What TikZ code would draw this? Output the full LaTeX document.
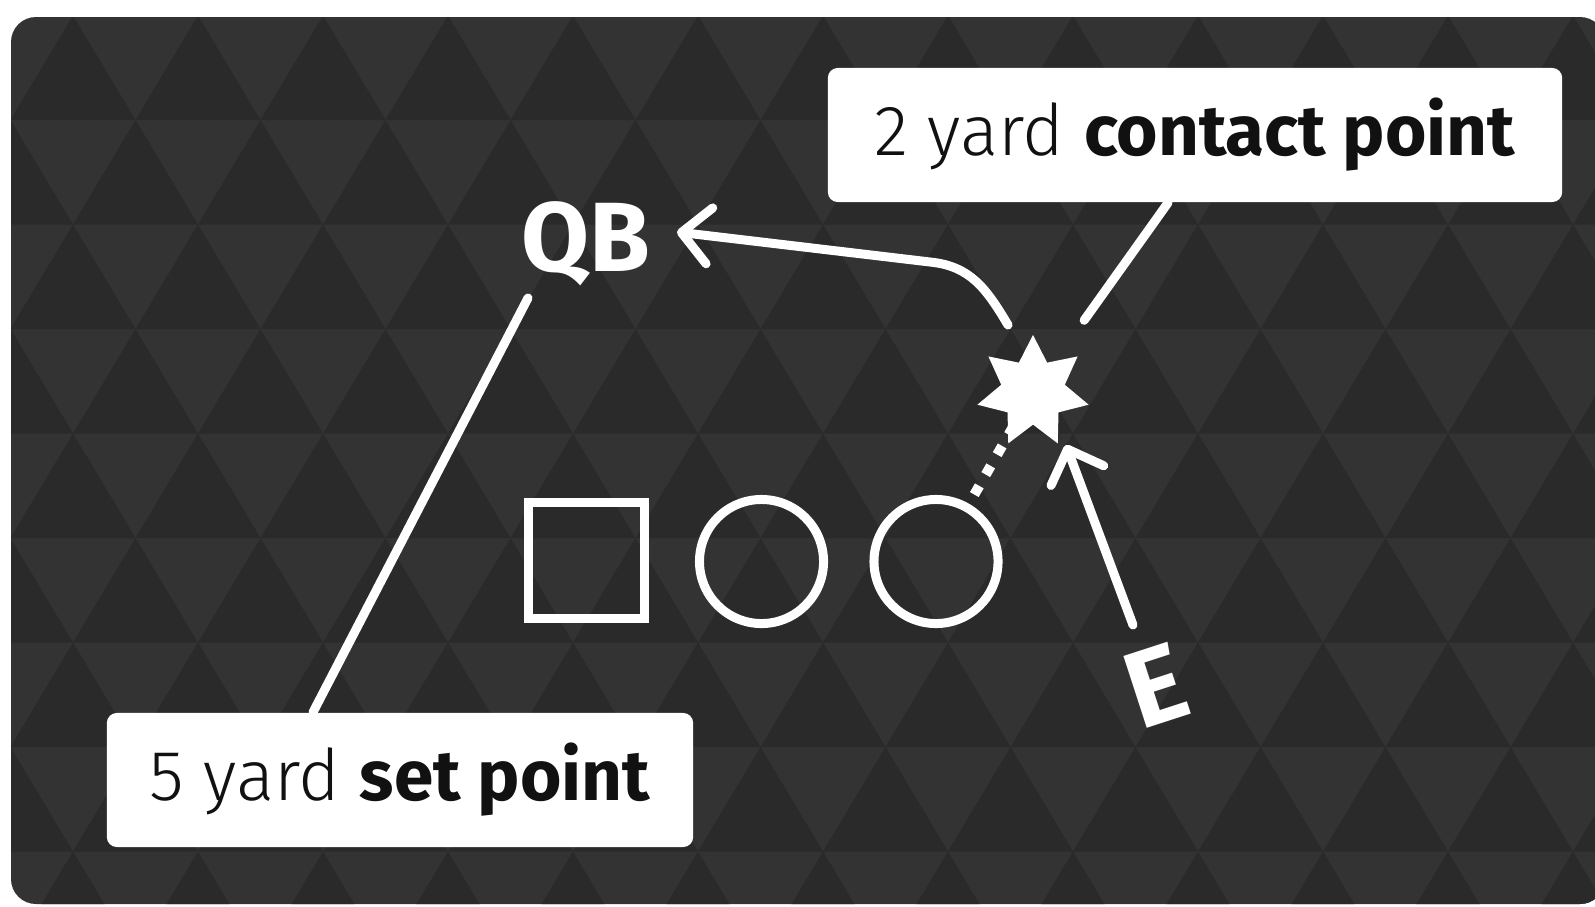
\documentclass[tikz,border=0pt]{standalone}
\usepackage{fontspec}
\setmainfont{Fira Sans Light}[BoldFont={Fira Sans Bold}]
\usepackage{xcolor}
\usetikzlibrary{shapes,arrows.meta,positioning,calc}

\definecolor{fieldlight}{HTML}{333333}
\definecolor{fielddark}{HTML}{2A2A2A}
\definecolor{inkblack}{HTML}{111111}

\tikzset{
  chalk/.style={draw=white, line width=0.09cm, line cap=round},
  chalkarrow/.style={chalk, -{Straight Barb[length=8pt,width=16pt,round]}},
  player/.style={draw=white, line width=0.09cm, inner sep=0pt},
  callout/.style={fill=white, rounded corners=0.1cm, text=inkblack, inner sep=0pt,
    minimum width=7.34cm, minimum height=1.34cm, font=\fontsize{20.2}{24}\selectfont},
  tag/.style={text=white, inner sep=0pt, font=\fontsize{28}{32}\selectfont\bfseries},
}

\begin{document}
\begin{tikzpicture}[x=0.01cm, y=-0.01cm]
    % Frame
    \fill[white] (0,0) rectangle (1595,906);
    \useasboundingbox (0,0) rectangle (1595,906);
    \fill[fieldlight, rounded corners=0.25cm] (11,17) rectangle (1605,904);

    % Triangle pattern
    \begin{scope}
      \clip[rounded corners=0.25cm] (11,17) rectangle (1605,904);
      \foreach \r in {0,...,8} {
        \pgfmathsetmacro{\rowtop}{15.5+104.5*\r}
        \pgfmathsetmacro{\rowshift}{73+62.5*mod(\r,2)}
        \foreach \k in {-1,...,13}
          \fill[fielddark] ({\rowshift+125*\k},\rowtop) -- ++(-62.5,104.5) -- ++(125,0) -- cycle;
      }
    \end{scope}

    % Formation
    \node[player, rectangle, minimum size=1.16cm] (sq) at (586.5,560.5) {};
    \node[player, circle, minimum size=1.24cm] (c1) at (761.5,561.5) {};
    \node[player, circle, minimum size=1.24cm] (c2) at (936,561.5) {};

    % Players
    \node[tag] (qb) at (586,244) {QB};
    \node[tag, font=\fontsize{31}{36}\selectfont\bfseries, rotate=18] (endE) at (1156,686) {E};

    % Contact
    \node[star, star points=7, star point ratio=1.75, fill=white, inner sep=0pt,
      minimum size=1.14cm] (hit) at (1033,392) {};

    % Callouts
    \node[callout] (contact) at (1195,135) {2 yard \textbf{contact point}};
    \node[callout, minimum width=5.86cm] (setpt) at (400,780) {5 yard \textbf{set point}};

    % Pointers
    \coordinate (setfoot) at ($(setpt.north)+(-87,0)$);
    \coordinate (qbfoot) at (528,298);
    \draw[chalk] (setfoot) -- (qbfoot);
    \coordinate (contactfoot) at ($(contact.south)+(-27,0)$);
    \draw[chalk, shorten >=0.88cm] (contactfoot) -- (hit.center);

    % Snap back to QB
    \coordinate (qbtip) at (677,232);
    \coordinate (bend) at (930,262);
    \draw[chalkarrow] ($(hit.center)+(-25,-67)$) .. controls (986,288) and (970,266) .. (bend) -- (qbtip);

    % Rush
    \draw[chalkarrow] ($(endE)+(-23,-61)$) -- ($(hit.center)+(33,53)$);

    % Release
    \draw[white, line width=0.1cm, dash pattern=on 0.1cm off 0.13cm]
      ($(c2)!0.395!(hit)$) -- ($(c2)!0.82!(hit)$);
\end{tikzpicture}
\end{document}
